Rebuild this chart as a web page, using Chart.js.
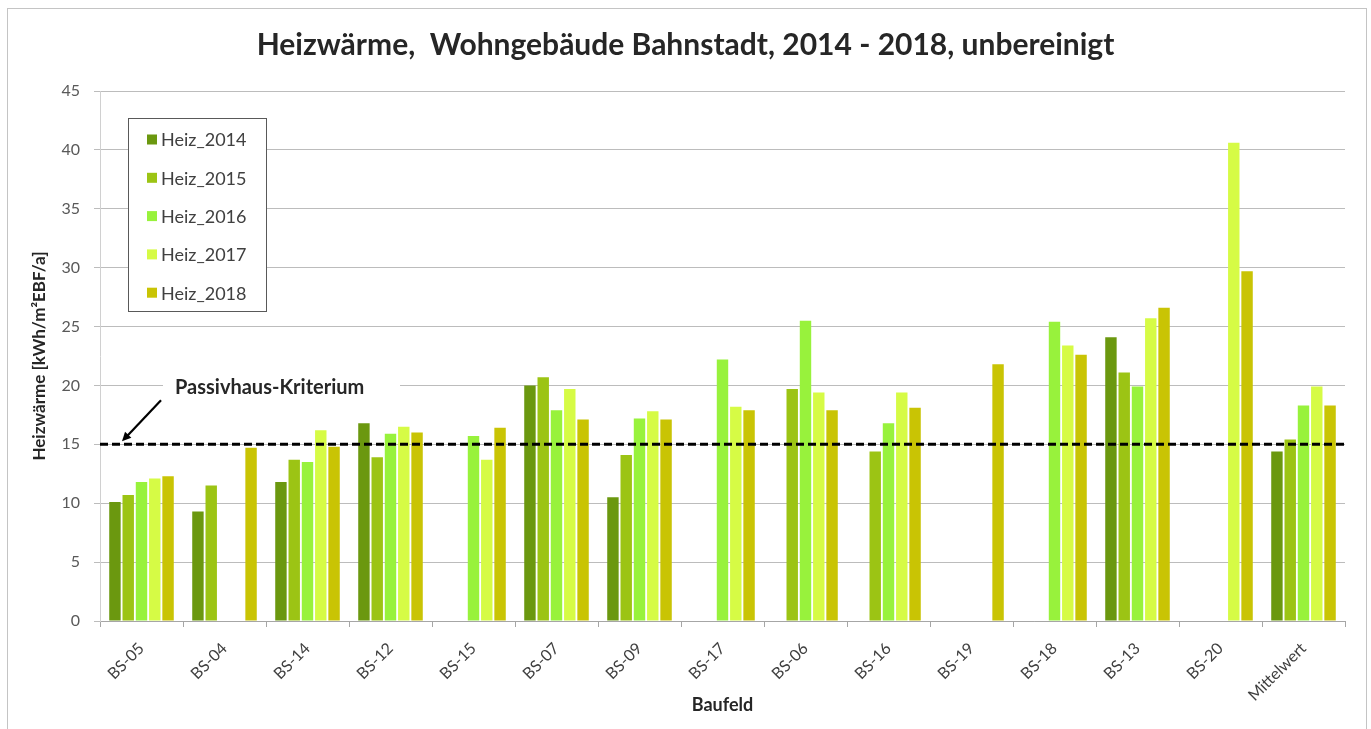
<!DOCTYPE html>
<html><head><meta charset="utf-8">
<script src="https://cdn.jsdelivr.net/npm/chart.js@4.4.1/dist/chart.umd.min.js"></script>
<style>html,body{margin:0;padding:0;background:#fff;}canvas{display:block;}</style>
</head><body>
<canvas id="c" width="1371" height="729"></canvas>
<script>
const categories = ['BS-05','BS-04','BS-14','BS-12','BS-15','BS-07','BS-09','BS-17','BS-06','BS-16','BS-19','BS-18','BS-13','BS-20','Mittelwert'];
const seriesLabels = ['Heiz_2014','Heiz_2015','Heiz_2016','Heiz_2017','Heiz_2018'];
const heiz2014 = [10.1, 9.3, 11.8, 16.8, null, 20.0, 10.5, null, null, null, null, null, 24.1, null, 14.4];
const heiz2015 = [10.7, 11.5, 13.7, 13.9, null, 20.7, 14.1, null, 19.7, 14.4, null, null, 21.1, null, 15.4];
const heiz2016 = [11.8, null, 13.5, 15.9, 15.7, 17.9, 17.2, 22.2, 25.5, 16.8, null, 25.4, 19.9, null, 18.3];
const heiz2017 = [12.1, null, 16.2, 16.5, 13.7, 19.7, 17.8, 18.2, 19.4, 19.4, null, 23.4, 25.7, 40.6, 19.9];
const heiz2018 = [12.3, 14.7, 14.8, 16.0, 16.4, 17.1, 17.1, 17.9, 17.9, 18.1, 21.8, 22.6, 26.6, 29.7, 18.3];
const seriesColors = ['#6b980f','#9cc414','#98f23c','#d6fb45','#c9c404'];
const yMin = 0, yMax = 45, yStep = 5;
const passivhausKriterium = 15;
const passivhausLabel = 'Passivhaus-Kriterium';
const titleText = 'Heizwärme,  Wohngebäude Bahnstadt, 2014 - 2018, unbereinigt';
const yTitle = 'Heizwärme [kWh/m²EBF/a]';
const xTitle = 'Baufeld';

const FONT = 'Lato, "Open Sans", sans-serif';
const allSeries = [heiz2014, heiz2015, heiz2016, heiz2017, heiz2018];

const overlay = {
  id: 'overlay',
  afterDatasetsDraw(chart) {
    const {ctx, chartArea: a, scales: {y}} = chart;
    const py = y.getPixelForValue(passivhausKriterium);
    const ly = y.getPixelForValue(20);
    ctx.save();
    ctx.fillStyle = '#ffffff';
    ctx.fillRect(a.left + 63, ly - 3, 237, 6);
    ctx.font = 'bold 20px ' + FONT;
    ctx.fillStyle = '#262626';
    ctx.textAlign = 'left';
    ctx.textBaseline = 'middle';
    ctx.fillText(passivhausLabel, a.left + 75, ly + 2);
    const tipX = a.left + 22, tipY = py - 3;
    const tailX = a.left + 61, tailY = py - 44;
    ctx.strokeStyle = '#000'; ctx.fillStyle = '#000'; ctx.lineWidth = 2.2;
    ctx.beginPath(); ctx.moveTo(tailX, tailY); ctx.lineTo(tipX + 4, tipY - 4); ctx.stroke();
    const ang = Math.atan2(tipY - tailY, tipX - tailX);
    ctx.beginPath();
    ctx.moveTo(tipX, tipY);
    ctx.lineTo(tipX - 10 * Math.cos(ang - 0.45), tipY - 10 * Math.sin(ang - 0.45));
    ctx.lineTo(tipX - 10 * Math.cos(ang + 0.45), tipY - 10 * Math.sin(ang + 0.45));
    ctx.closePath(); ctx.fill();
    ctx.strokeStyle = '#000'; ctx.lineWidth = 3; ctx.setLineDash([8, 4]);
    ctx.beginPath(); ctx.moveTo(a.left, py); ctx.lineTo(a.right, py); ctx.stroke();
    ctx.restore();
  },
  afterDraw(chart) {
    const {ctx} = chart;
    ctx.save();
    // title, centred on the whole picture
    ctx.font = 'bold 30px ' + FONT;
    ctx.fillStyle = '#262626';
    ctx.textAlign = 'center'; ctx.textBaseline = 'middle';
    ctx.fillText(titleText, chart.width / 2, 45);
    // legend
    const bx = 128.5, by = 118.5, bw = 138, bh = 193;
    ctx.fillStyle = '#fff'; ctx.fillRect(bx, by, bw, bh);
    ctx.strokeStyle = '#595959'; ctx.lineWidth = 1; ctx.strokeRect(bx, by, bw, bh);
    ctx.font = '18px ' + FONT; ctx.textAlign = 'left'; ctx.textBaseline = 'middle';
    chart.data.datasets.forEach((ds, i) => {
      const cy = 139.5 + i * 38.3;
      ctx.fillStyle = ds.backgroundColor;
      ctx.fillRect(147, cy - 5, 10, 10);
      ctx.fillStyle = '#404040';
      ctx.fillText(ds.label, 161, cy + 1);
    });
    ctx.strokeStyle = '#c4c4c4'; ctx.lineWidth = 1;
    ctx.strokeRect(7.5, 8.5, 1359, 740);
    ctx.restore();
  }
};

new Chart(document.getElementById('c'), {
  type: 'bar',
  data: {
    labels: categories,
    datasets: allSeries.map((d, i) => ({
      label: seriesLabels[i],
      data: d,
      backgroundColor: seriesColors[i],
      borderWidth: 0,
      barPercentage: 0.86,
      categoryPercentage: 0.8
    }))
  },
  options: {
    responsive: false,
    animation: false,
    devicePixelRatio: 1,
    layout: {padding: {left: 0, right: 26, top: 91, bottom: 0}},
    plugins: {
      legend: {display: false},
      tooltip: {enabled: false},
      title: {display: false}
    },
    scales: {
      x: {
        grid: {display: true, drawOnChartArea: false, drawTicks: true, tickLength: 6, color: '#a6a6a6', offset: true},
        border: {display: true, color: '#a6a6a6'},
        ticks: {color: '#404040', font: {family: FONT, size: 16}, minRotation: 45, maxRotation: 45, autoSkip: false, padding: 12},
        title: {display: true, text: xTitle, color: '#262626', font: {family: FONT, size: 18, weight: 'bold'}, padding: {top: 0, bottom: 13}},
        afterFit(scale) { scale.height = 108; }
      },
      y: {
        min: yMin, max: yMax,
        grid: {color: '#bcbcbc', lineWidth: 1, tickLength: 6, drawTicks: true},
        border: {display: true, color: '#d0d0d0'},
        ticks: {stepSize: yStep, color: '#595959', font: {family: FONT, size: 16}, padding: 14},
        title: {display: true, text: yTitle, color: '#262626', font: {family: FONT, size: 17, weight: 'bold'}, padding: {top: 29, bottom: 0}},
        afterFit(scale) { scale.width = 100; }
      }
    }
  },
  plugins: [overlay]
});
</script>
</body></html>
